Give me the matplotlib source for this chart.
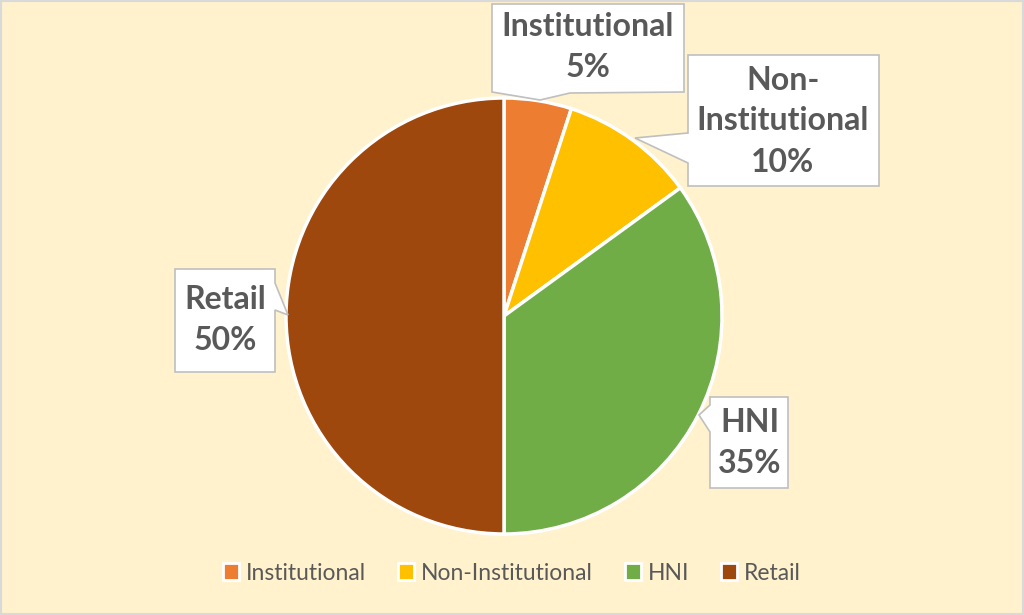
import matplotlib.pyplot as plt
from matplotlib.patches import Polygon, Patch, Rectangle

categories = ['Institutional', 'Non-Institutional', 'HNI', 'Retail']
shares = [5, 10, 35, 50]
label_text = ['Institutional\n5%', 'Non-\nInstitutional\n10%', 'HNI\n35%', 'Retail\n50%']
colors = ['#ED7D31', '#FFC000', '#70AD47', '#9E480E']

W, H = 1024, 615
BG = '#FFF2CC'
TXT = '#595959'
plt.rcParams['font.family'] = ['Lato', 'DejaVu Sans']

fig = plt.figure(figsize=(W / 100, H / 100), dpi=100)
fig.patch.set_facecolor(BG)
ax = fig.add_axes([0, 0, 1, 1])

# pie, pixel units with y measured from the bottom
cx, cy, r = 504, H - 316, 218
ax.pie(shares, colors=colors, startangle=90, counterclock=False,
       center=(cx, cy), radius=r, frame=True,
       wedgeprops=dict(edgecolor='white', linewidth=2.5))
ax.set_xlim(0, W)
ax.set_ylim(0, H)
ax.set_aspect('equal')
ax.axis('off')


def py(y):
    return H - y


# callout outlines (box with a tail), in pixel coordinates from the top
callouts = [
    [(492, 4), (684, 4), (684, 92), (570, 93), (540, 100), (492, 92)],
    [(688, 55), (879, 55), (879, 186), (688, 186), (688, 163), (635, 138), (688, 133)],
    [(710, 397), (788, 397), (788, 488), (710, 488), (710, 432), (699, 415), (710, 405)],
    [(175, 269), (275, 269), (275, 283), (288, 315), (275, 310), (275, 372), (175, 372)],
]
centers = [(588, 47), (783, 121), (750, 443), (225, 320)]

for pts, (tx, ty), txt in zip(callouts, centers, label_text):
    poly = Polygon([(x, py(y)) for x, y in pts], closed=True,
                   facecolor='white', edgecolor='#BFBFBF', linewidth=1.2, zorder=3)
    ax.add_patch(poly)
    ax.text(tx, py(ty), txt, ha='center', va='center', fontsize=23,
            fontweight='bold', color=TXT, linespacing=1.5, zorder=4)

handles = [Patch(facecolor=c, edgecolor='white', linewidth=2) for c in colors]
leg = fig.legend(handles, categories, loc='center', bbox_to_anchor=(0.5, 1 - 573 / H),
                 ncol=4, frameon=False, fontsize=16.5, handlelength=0.7, handleheight=0.7,
                 handletextpad=0.3, columnspacing=1.4)
for t in leg.get_texts():
    t.set_color(TXT)

fig.add_artist(Rectangle((0, 0), 1, 1, transform=fig.transFigure, fill=False,
                         edgecolor='#D9D9D9', linewidth=3))

fig.savefig('out.png', dpi=100, facecolor=BG)
